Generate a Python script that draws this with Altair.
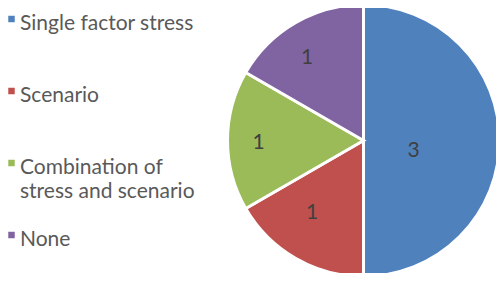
import altair as alt
import pandas as pd

categories = ["Single factor stress", "Scenario", "Combination of stress and scenario", "None"]
legend_labels = ["Single factor stress", "Scenario", "Combination of\nstress and scenario", "None"]
values = [3, 1, 1, 1]
colors = ["#4F81BD", "#C0504D", "#9BBB59", "#8064A2"]

df = pd.DataFrame({
    "category": categories,
    "label": legend_labels,
    "value": values,
    "order": list(range(len(categories))),
})

FONT = "Lato"
CX, CY, R = 355.5, 132.5, 136

color_scale = alt.Scale(domain=categories, range=colors)
theta = alt.Theta("value:Q", stack=True)
order = alt.Order("order:Q")

base = alt.Chart(df)

pie = base.mark_arc(outerRadius=R, stroke="white", strokeWidth=3).encode(
    theta=theta,
    order=order,
    color=alt.Color("category:N", scale=color_scale, legend=None),
    x=alt.value(CX),
    y=alt.value(CY),
)

# label placement styling per slice: (radius, dx, dy)
label_style = {
    "Single factor stress": (50, 0, 10),
    "Scenario": (89, -7, -5),
    "Combination of stress and scenario": (105, 0, 2),
    "None": (99, -7, 3),
}

label_layers = []
for cat, (r, dx, dy) in label_style.items():
    label_layers.append(
        base.mark_text(radius=r, dx=dx, dy=dy, font=FONT, fontSize=21,
                       color="#404040", baseline="middle", align="center").encode(
            theta=theta,
            order=order,
            text=alt.condition(alt.datum.category == cat, alt.Text("value:Q"), alt.value("")),
            x=alt.value(CX),
            y=alt.value(CY),
        )
    )

legend_y = alt.Y("category:N", sort=categories,
                 scale=alt.Scale(type="point", range=[13, 229], padding=0), axis=None)

legend_sq = base.mark_square(size=42, opacity=1, yOffset=-2).encode(
    x=alt.value(3.5),
    y=legend_y,
    color=alt.Color("category:N", scale=color_scale, legend=None),
)

legend_txt = base.mark_text(align="left", baseline="top", dy=-8, font=FONT, fontSize=21,
                            color="#595959", lineBreak="\n", lineHeight=24).encode(
    x=alt.value(12),
    y=legend_y,
    text="label:N",
)

chart = alt.layer(pie, *label_layers, legend_sq, legend_txt).properties(
    width=488, height=265, padding=0, autosize="none",
).configure_view(stroke=None)

chart.save("out.html", embed_options={"renderer": "svg", "actions": False})
